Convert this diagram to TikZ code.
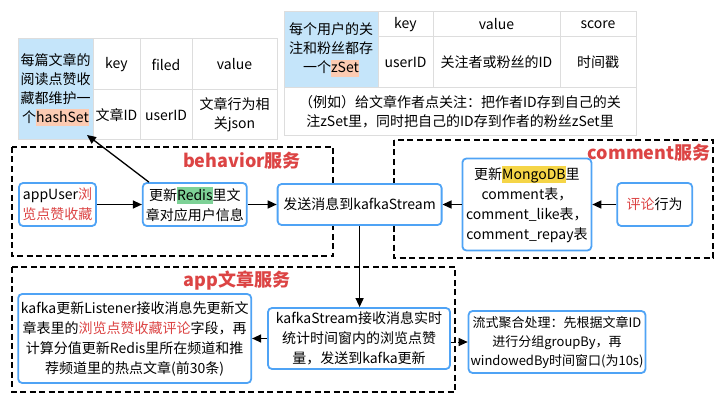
\documentclass[tikz,border=0pt]{standalone}
\usepackage{fontspec}
\setmainfont{Noto Sans CJK SC}
\usepackage{xcolor}
\usepackage{tikz}
\usetikzlibrary{arrows.meta, positioning}
\definecolor{BoxBlue}  {RGB}{79, 163, 245}
\definecolor{TagRed}   {RGB}{220, 68, 68}
\definecolor{CellBlue} {RGB}{197, 229, 250}
\definecolor{GridGray} {RGB}{221, 221, 221}
\definecolor{HlSalmon} {RGB}{252, 203, 178}
\definecolor{HlGreen}  {RGB}{125, 209, 150}
\definecolor{HlYellow} {RGB}{245, 213, 71}
\newcommand{\hlt}[2]{{\setlength{\fboxsep}{0pt}\colorbox{#1}{\rule[-4pt]{0pt}{17pt}#2}}}
\newcommand{\redtxt}[1]{\textcolor{TagRed}{#1}}

\begin{document}
\begin{tikzpicture}[
  x=1pt, y=-1pt,
  box/.style={draw=BoxBlue, line width=1.8pt, rounded corners=4pt, fill=white,
              align=center, inner sep=2pt, font=\fontsize{14}{20}\selectfont},
  service/.style={draw, dash pattern=on 6pt off 3.5pt, line width=1.4pt},
  tag/.style={text=TagRed, font=\fontsize{18}{20}\selectfont\bfseries},
  cell/.style={align=center, inner sep=0pt, font=\fontsize{14}{19}\selectfont},
  grid/.style={draw=GridGray, line width=1pt},
  arr/.style={-{Triangle[length=9pt,width=8pt]}, line width=1.3pt},
  darr/.style={arr, dash pattern=on 4pt off 3pt, line width=1pt}
]
  \useasboundingbox (0,0) rectangle (724,404);

  % hashSet table
  \fill[CellBlue] (18,39) rectangle (93,140);
  \draw[grid] (18,39) rectangle (277,140);
  \draw[grid] (93,39) -- (93,140) (140,39) -- (140,140) (192,39) -- (192,140)
              (93,90) -- (277,90);
  \node[cell] (hsinfo) at (55.5,90) {每篇文章的\\阅读点赞收\\藏都维护一\\个\hlt{HlSalmon}{hashSet}};
  \node[cell] (hskey)   at (116.5,64.5) {key};
  \node[cell] (hsfiled) at (166,64.5)   {filed};
  \node[cell] (hsvalue) at (234.5,64.5) {value};
  \node[cell] (hsarticle) at (116.5,115) {文章ID};
  \node[cell] (hsuser)    at (166,115)   {userID};
  \node[cell] (hsaction)  at (234.5,115) {文章行为相\\关json};
  \coordinate (hsend) at (87,135);

  % zSet table
  \fill[CellBlue] (284,12) rectangle (378,88);
  \draw[grid] (284,12) rectangle (636,136);
  \draw[grid] (378,12) -- (378,88) (433,12) -- (433,88) (560,12) -- (560,88)
              (378,37) -- (636,37) (284,88) -- (636,88);
  \node[cell] (zsinfo)  at (331,50)   {每个用户的关\\注和粉丝都存\\一个\hlt{HlSalmon}{zSet}};
  \node[cell] (zskey)   at (405.5,24.5) {key};
  \node[cell] (zsvalue) at (496.5,24.5) {value};
  \node[cell] (zsscore) at (598,24.5)   {score};
  \node[cell] (zsuser)  at (405.5,62)   {userID};
  \node[cell] (zsfans)  at (496.5,62)   {关注者或粉丝的ID};
  \node[cell] (zstime)  at (598,62)     {时间戳};
  \node[cell] (zsnote)  at (460,112)    {（例如）给文章作者点关注：把作者ID存到自己的关\\注zSet里，同时把自己的ID存到作者的粉丝zSet里};

  % services
  \draw[service] (12,147) rectangle (333,256);
  \node[tag] (behtag) at (242,161) {behavior服务};
  \draw[service] (394,140) rectangle (713,258);
  \node[tag, anchor=east] (comtag) at (714,153) {comment服务};
  \draw[service] (12,267) rectangle (455,392);
  \node[tag] (apptag) at (237,281) {app文章服务};

  % behavior / comment row
  \node[box, minimum width=77pt, minimum height=43pt] (appuser) at (57.5,204.5)
       {appUser\redtxt{浏}\\\redtxt{览点赞收藏}};
  \node[box, right=45pt of appuser, minimum width=104pt, minimum height=43pt] (redis)
       {更新\hlt{HlGreen}{Redis}里文\\章对应用户信息};
  \node[box, right=29pt of redis, minimum width=164pt, minimum height=41pt] (send)
       {发送消息到kafkaStream};
  \node[box, right=19pt of send, minimum width=129pt, minimum height=92pt] (mongo)
       {更新\hlt{HlYellow}{MongoDB}里\\comment表，\\comment\_like表，\\comment\_repay表};
  \node[box, right=24pt of mongo, minimum width=75pt, minimum height=43pt] (review)
       {\redtxt{评论}行为};

  % app row
  \node[box, minimum width=182pt, minimum height=61pt] (receive) at (359,338.5)
       {kafkaStream接收消息实时\\统计时间窗内的浏览点赞\\量，发送到kafka更新};
  \node[box, left=15pt of receive, minimum width=233pt, minimum height=89pt] (listener)
       {kafka更新Listener接收消息先更新文\\章表里的\redtxt{浏览点赞收藏评论}字段，再\\计算分值更新Redis里所在频道和推\\荐频道里的热点文章(前30条)};
  \node[box, minimum width=168pt, minimum height=62pt, font=\fontsize{13}{19}\selectfont] (note) at (557,342)
       {流式聚合处理：先根据文章ID\\进行分组groupBy，再\\windowedBy时间窗口(为10s)};

  \draw[arr] (appuser) -- (redis);
  \draw[arr] (redis) -- (send);
  \draw[arr] (review) -- (mongo);
  \draw[arr] (mongo) -- (send);
  \draw[arr] ([xshift=7pt]redis.north west) -- (hsend);
  \draw[arr] (send) -- (send |- receive.north);
  \draw[arr] (receive) -- (listener);
  \draw[darr] (receive.east |- note) -- (note);
\end{tikzpicture}
\end{document}
